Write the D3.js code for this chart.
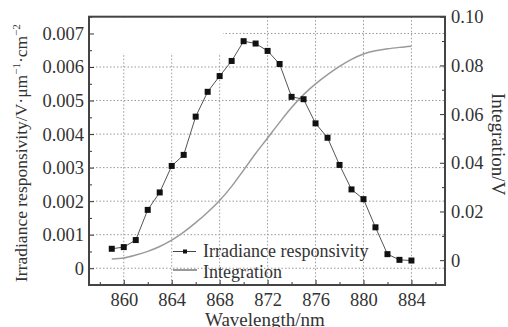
<!DOCTYPE html>
<html>
<head>
    <meta charset="utf-8">
    <script src="https://d3js.org/d3.v7.min.js"></script>
    <style>
        body { margin: 0; background: #fff; }
        text { font-family: "Liberation Serif", "DejaVu Serif", serif; fill: #333; }
    </style>
</head>
<body>
    <svg id="chart" width="508" height="327"></svg>
    <script>
        // values
        const wavelength = [859, 860, 861, 862, 863, 864, 865, 866, 867, 868, 869, 870, 871,
            872, 873, 874, 875, 876, 877, 878, 879, 880, 881, 882, 883, 884];
        const responsivity = [0.00058, 0.00063, 0.00084, 0.00174, 0.00226, 0.00305, 0.00338,
            0.00452, 0.00526, 0.00573, 0.00618, 0.00677, 0.00670, 0.00648, 0.00609, 0.00511,
            0.00504, 0.00432, 0.00389, 0.00308, 0.00235, 0.00206, 0.00122, 0.00042, 0.00025, 0.00023];
        const integration = [0.0005, 0.0009, 0.0021, 0.0036, 0.0056, 0.0082, 0.0115, 0.0154,
            0.0197, 0.0245, 0.0303, 0.0370, 0.0438, 0.0502, 0.0566, 0.0627, 0.0680, 0.0724,
            0.0762, 0.0796, 0.0825, 0.0847, 0.0860, 0.0868, 0.0874, 0.0879];
        const xTicks = [860, 864, 868, 872, 876, 880, 884];
        const leftTicks = [0, 0.001, 0.002, 0.003, 0.004, 0.005, 0.006, 0.007];
        const rightTicks = [0, 0.02, 0.04, 0.06, 0.08, 0.10];

        const svg = d3.select("#chart");
        const L = 89, R = 445, T = 16.7, B = 285;

        const x = d3.scaleLinear().domain([857.1, 886.8]).range([L, R]);
        const yL = d3.scaleLinear().domain([-0.0005, 0.0075]).range([B, T]);
        const yR = d3.scaleLinear().domain([-0.0102, 0.10]).range([B, T]);

        // dotted grid
        const grid = svg.append("g").attr("stroke", "#999").attr("stroke-width", 1)
            .attr("stroke-dasharray", "1.5,2");
        grid.selectAll("line.v").data(xTicks).join("line")
            .attr("x1", d => x(d)).attr("x2", d => x(d)).attr("y1", T).attr("y2", B);
        grid.selectAll("line.h").data(leftTicks).join("line")
            .attr("x1", L).attr("x2", R).attr("y1", d => yL(d)).attr("y2", d => yL(d));
        // blank patch in the upper left corner
        svg.append("rect").attr("x", L + 1).attr("y", T + 1).attr("width", 222 - L).attr("height", 52 - T)
            .attr("fill", "#fff");

        // axes, ticks inward
        svg.append("g").attr("transform", `translate(0,${B})`)
            .call(d3.axisBottom(x).tickValues(xTicks).tickSize(-5).tickPadding(8).tickFormat(d3.format("d")));
        svg.append("g").attr("transform", `translate(0,${B})`)
            .call(d3.axisBottom(x).tickValues(d3.range(858, 887, 2).filter(d => d % 4 !== 0)).tickSize(-3).tickFormat(""));
        svg.append("g").attr("transform", `translate(${L},0)`)
            .call(d3.axisLeft(yL).tickValues(leftTicks).tickSize(-5).tickPadding(5)
                .tickFormat(d => d === 0 ? "0" : d3.format(".3f")(d)));
        svg.append("g").attr("transform", `translate(${L},0)`)
            .call(d3.axisLeft(yL).tickValues(d3.range(-0.0005, 0.0076, 0.001)).tickSize(-3).tickFormat(""));
        svg.append("g").attr("transform", `translate(${R},0)`)
            .call(d3.axisRight(yR).tickValues(rightTicks).tickSize(-5).tickPadding(6)
                .tickFormat(d => d === 0 ? "0" : d3.format(".2f")(d)));
        svg.append("g").attr("transform", `translate(${R},0)`)
            .call(d3.axisRight(yR).tickValues(d3.range(0.01, 0.1, 0.02)).tickSize(-3).tickFormat(""));
        svg.selectAll(".domain").remove();
        svg.selectAll(".tick line").attr("stroke", "#333").attr("stroke-width", 1);
        svg.selectAll(".tick text").attr("font-size", 18.5).attr("fill", "#333")
            .attr("font-family", "Liberation Serif, serif")
            .style("font-family", "'Liberation Serif', serif");

        // frame
        svg.append("rect").attr("x", L).attr("y", T).attr("width", R - L).attr("height", B - T)
            .attr("fill", "none").attr("stroke", "#444").attr("stroke-width", 2);

        // integration curve
        const integ = d3.line().x((d, i) => x(wavelength[i])).y(d => yR(d)).curve(d3.curveMonotoneX);
        svg.append("path").datum(integration).attr("d", integ)
            .attr("fill", "none").attr("stroke", "#9a9a9a").attr("stroke-width", 1.5);

        // responsivity line + squares
        const resp = d3.line().x((d, i) => x(wavelength[i])).y(d => yL(d));
        svg.append("path").datum(responsivity).attr("d", resp)
            .attr("fill", "none").attr("stroke", "#555").attr("stroke-width", 1);
        svg.selectAll("rect.pt").data(responsivity).join("rect").attr("class", "pt")
            .attr("x", (d, i) => x(wavelength[i]) - 3).attr("y", d => yL(d) - 3)
            .attr("width", 6).attr("height", 6).attr("fill", "#111");

        // legend
        const lg = svg.append("g");
        lg.append("line").attr("x1", 173).attr("x2", 196).attr("y1", 251.5).attr("y2", 251.5)
            .attr("stroke", "#444").attr("stroke-width", 1);
        lg.append("rect").attr("x", 183).attr("y", 249.5).attr("width", 4).attr("height", 4).attr("fill", "#111");
        lg.append("text").attr("x", 203).attr("y", 257).attr("font-size", 18).text("Irradiance responsivity");
        lg.append("line").attr("x1", 173).attr("x2", 197).attr("y1", 270).attr("y2", 270)
            .attr("stroke", "#9a9a9a").attr("stroke-width", 2);
        lg.append("text").attr("x", 203).attr("y", 277.5).attr("font-size", 18).text("Integration");

        // axis titles
        svg.append("text").attr("x", 205).attr("y", 325.5).attr("font-size", 19).text("Wavelength/nm");
        const lt = svg.append("text").attr("transform", "translate(27,282) rotate(-90)").attr("font-size", 17.5);
        lt.append("tspan").text("Irradiance responsivity/V·μm");
        lt.append("tspan").attr("font-size", 11).attr("dy", -7).text("−1");
        lt.append("tspan").attr("dy", 7).text("·cm");
        lt.append("tspan").attr("font-size", 11).attr("dy", -7).text("−2");
        svg.append("text").attr("transform", "translate(492,93) rotate(90)").attr("font-size", 19)
            .text("Integration/V");
    </script>
</body>
</html>
